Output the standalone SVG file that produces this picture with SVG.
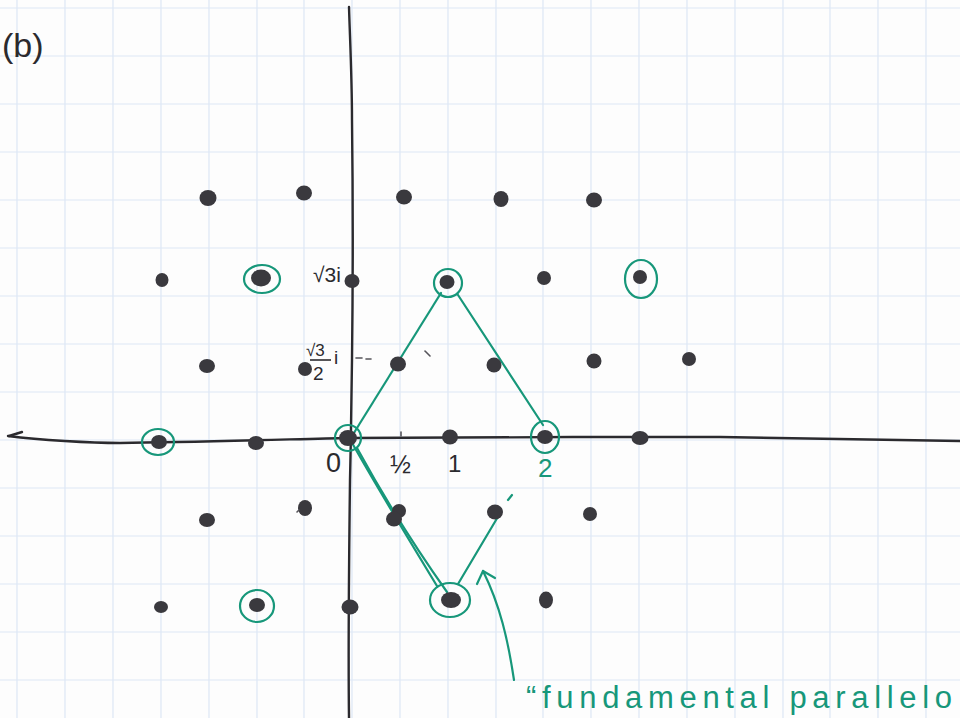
<svg xmlns="http://www.w3.org/2000/svg" width="960" height="718" viewBox="0 0 960 718">
<style>
.grid line{stroke:#dde7f5;stroke-width:1.2}
.dot{fill:#3a393e}
.ring{fill:none;stroke:#17977a;stroke-width:2.2}
.green{fill:none;stroke:#17977a;stroke-width:2.2;stroke-linecap:round;stroke-linejoin:round}
.axis{fill:none;stroke:#2b2a2e;stroke-width:2.4;stroke-linecap:round;stroke-linejoin:round}
.ink{font-family:"Liberation Sans","DejaVu Sans",sans-serif;fill:#2b2a2e}
.gink{font-family:"Liberation Sans","DejaVu Sans",sans-serif;fill:#17977a}
.mark{stroke:#55545a;stroke-width:1.6;stroke-linecap:round}
</style>
<rect width="960" height="718" fill="#fdfdfd"/>
<g class="grid">
<line x1="17" y1="0" x2="17" y2="718"/><line x1="65" y1="0" x2="65" y2="718"/><line x1="113" y1="0" x2="113" y2="718"/><line x1="161" y1="0" x2="161" y2="718"/><line x1="209" y1="0" x2="209" y2="718"/><line x1="257" y1="0" x2="257" y2="718"/><line x1="304" y1="0" x2="304" y2="718"/><line x1="352" y1="0" x2="352" y2="718"/><line x1="400" y1="0" x2="400" y2="718"/><line x1="448" y1="0" x2="448" y2="718"/><line x1="496" y1="0" x2="496" y2="718"/><line x1="543" y1="0" x2="543" y2="718"/><line x1="591" y1="0" x2="591" y2="718"/><line x1="639" y1="0" x2="639" y2="718"/><line x1="687" y1="0" x2="687" y2="718"/><line x1="735" y1="0" x2="735" y2="718"/><line x1="783" y1="0" x2="783" y2="718"/><line x1="830" y1="0" x2="830" y2="718"/><line x1="878" y1="0" x2="878" y2="718"/><line x1="926" y1="0" x2="926" y2="718"/>
<line x1="0" y1="8" x2="960" y2="8"/><line x1="0" y1="56" x2="960" y2="56"/><line x1="0" y1="104" x2="960" y2="104"/><line x1="0" y1="152" x2="960" y2="152"/><line x1="0" y1="200" x2="960" y2="200"/><line x1="0" y1="248" x2="960" y2="248"/><line x1="0" y1="296" x2="960" y2="296"/><line x1="0" y1="344" x2="960" y2="344"/><line x1="0" y1="392" x2="960" y2="392"/><line x1="0" y1="440" x2="960" y2="440"/><line x1="0" y1="488" x2="960" y2="488"/><line x1="0" y1="536" x2="960" y2="536"/><line x1="0" y1="584" x2="960" y2="584"/><line x1="0" y1="632" x2="960" y2="632"/><line x1="0" y1="680" x2="960" y2="680"/>
</g>
<g id="axes">
<path class="axis" d="M8,436 C40,440 90,443 120,443 C200,442 300,439 348,438 C450,437 600,437 720,437 C820,438 900,440 960,441"/>
<path class="axis" d="M9,436 L22,432"/>
<path class="axis" d="M349,7 C350,40 352,80 352,120 C353,200 353,280 352,360 C351,420 351,440 350,480 C349,560 348,640 349,718"/>
</g>
<g id="connectors">
<path class="green" d="M352,436 L441,293"/>
<path class="green" d="M458,295 L543,425"/>
<path class="green" d="M351,441 C370,475 400,525 437,586"/>
<path class="green" d="M357,448 C380,490 410,540 447,592"/>
<path class="green" d="M458,584 L499,515"/>
<path class="green" d="M508,500 L512,495"/>
<path class="green" d="M514,680 C508,640 500,605 483,571"/>
<path class="green" d="M477,584 L483,571 L495,578"/>
</g>
<g id="lattice">
<g id="p-2_2"><ellipse class="dot" cx="208" cy="198" rx="8.5" ry="8"/></g>
<g id="p-1_2"><ellipse class="dot" cx="304" cy="193" rx="8" ry="7.5"/></g>
<g id="p0_2"><ellipse class="dot" cx="404" cy="197" rx="8" ry="7.5"/></g>
<g id="p1_2"><ellipse class="dot" cx="501" cy="199" rx="7.5" ry="8"/></g>
<g id="p2_2"><ellipse class="dot" cx="594" cy="200" rx="8" ry="7.5"/></g>
<g id="p-2_1"><ellipse class="dot" cx="162" cy="280" rx="6.5" ry="7"/></g>
<g id="p-1_1"><ellipse class="dot" cx="261" cy="278" rx="10" ry="8.5"/><ellipse class="ring" cx="262" cy="279" rx="18" ry="14"/></g>
<g id="p0_1"><ellipse class="dot" cx="352" cy="281" rx="7.5" ry="7"/></g>
<g id="p1_1"><ellipse class="dot" cx="447" cy="282" rx="7.5" ry="7"/><ellipse class="ring" cx="448" cy="283" rx="14" ry="14"/></g>
<g id="p2_1"><ellipse class="dot" cx="544" cy="278" rx="7" ry="7"/></g>
<g id="p3_1"><ellipse class="dot" cx="640" cy="277" rx="7" ry="7"/><ellipse class="ring" cx="641" cy="279" rx="16" ry="19"/></g>
<g id="p-2_h"><ellipse class="dot" cx="207" cy="366" rx="8" ry="7"/></g>
<g id="p-1_h"><ellipse class="dot" cx="305" cy="369" rx="7" ry="7"/></g>
<g id="p0_h"><ellipse class="dot" cx="398" cy="364" rx="8" ry="7.5"/></g>
<g id="p1_h"><ellipse class="dot" cx="494" cy="365" rx="7.5" ry="7.5"/></g>
<g id="p2_h"><ellipse class="dot" cx="594" cy="361" rx="7.5" ry="7.5"/></g>
<g id="p3_h"><ellipse class="dot" cx="689" cy="359" rx="7" ry="7"/></g>
<g id="p-2_0"><ellipse class="dot" cx="159" cy="442" rx="8" ry="7"/><ellipse class="ring" cx="158" cy="442" rx="16" ry="13"/></g>
<g id="p-1_0"><ellipse class="dot" cx="256" cy="443" rx="8" ry="7"/></g>
<g id="p0_0"><ellipse class="dot" cx="348" cy="438" rx="9" ry="8"/><ellipse class="ring" cx="348" cy="438" rx="13" ry="13"/></g>
<g id="p1_0"><ellipse class="dot" cx="450" cy="437" rx="8" ry="7.5"/></g>
<g id="p2_0"><ellipse class="dot" cx="545" cy="437" rx="8" ry="7"/><ellipse class="ring" cx="545" cy="437" rx="14" ry="16"/></g>
<g id="p3_0"><ellipse class="dot" cx="640" cy="438" rx="8.5" ry="7"/></g>
<g id="p-2_m"><ellipse class="dot" cx="207" cy="520" rx="8" ry="7"/></g>
<g id="p-1_m"><ellipse class="dot" cx="305" cy="508" rx="7" ry="8"/></g>
<g id="p0_m"><ellipse class="dot" cx="399" cy="511" rx="7" ry="7"/><ellipse class="dot" cx="394" cy="519" rx="8" ry="7.5"/></g>
<g id="p1_m"><ellipse class="dot" cx="495" cy="512" rx="8" ry="7.5"/></g>
<g id="p2_m"><ellipse class="dot" cx="590" cy="514" rx="7" ry="7"/></g>
<g id="p-2_-1"><ellipse class="dot" cx="161" cy="607" rx="7" ry="6"/></g>
<g id="p-1_-1"><ellipse class="dot" cx="257" cy="605" rx="8" ry="7"/><ellipse class="ring" cx="257" cy="606" rx="17" ry="16"/></g>
<g id="p0_-1"><ellipse class="dot" cx="350" cy="607" rx="8.5" ry="7.5"/></g>
<g id="p1_-1"><ellipse class="dot" cx="451" cy="600" rx="10" ry="8"/><ellipse class="ring" cx="450" cy="600" rx="20" ry="17"/></g>
<g id="p2_-1"><ellipse class="dot" cx="546" cy="600" rx="7" ry="8.5"/></g>
</g>
<g id="marks">
<line class="mark" x1="356" y1="358" x2="362" y2="358"/>
<line class="mark" x1="366" y1="359" x2="371" y2="359"/>
<line class="mark" x1="425" y1="351" x2="430" y2="356"/>
<line class="mark" x1="401" y1="432" x2="401" y2="436"/>
<line class="mark" x1="297" y1="512" x2="299" y2="510"/>
</g>
<g id="labels">
<text class="ink" x="2" y="57" font-size="34">(b)</text>
<text class="ink" x="313" y="282" font-size="21">√3i</text>
<text class="ink" x="306" y="356" font-size="17">√3</text>
<line x1="310" y1="360" x2="331" y2="360" stroke="#2b2a2e" stroke-width="1.6"/>
<text class="ink" x="313" y="380" font-size="19">2</text>
<text class="ink" x="334" y="364" font-size="19">i</text>
<text class="ink" x="326" y="472" font-size="27">0</text>
<text class="ink" x="390" y="473" font-size="25">½</text>
<text class="ink" x="448" y="472" font-size="24">1</text>
<text class="gink" x="538" y="477" font-size="26">2</text>
<text class="gink" x="526" y="708" font-size="31" textLength="426" lengthAdjust="spacing">“fundamental parallelo</text>
</g>
</svg>
